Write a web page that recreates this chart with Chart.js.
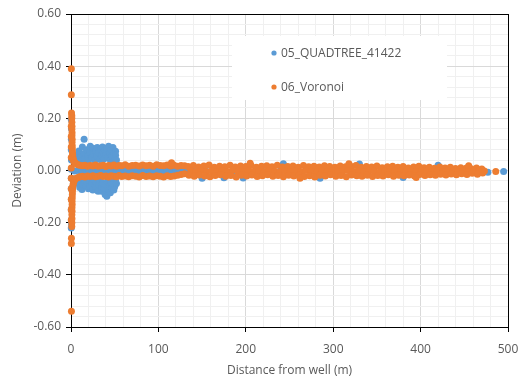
<!DOCTYPE html>
<html>
<head>
<meta charset="utf-8">
<script src="https://cdn.jsdelivr.net/npm/chart.js@4/dist/chart.umd.min.js"></script>
<style>
html, body { margin: 0; padding: 0; background: #fff; }
</style>
</head>
<body>
<canvas id="myChart" width="519" height="385"></canvas>
<script>
// series names and colours
const seriesLabels = ['05_QUADTREE_41422', '06_Voronoi'];
const seriesColors = ['#5B9BD5', '#ED7D31'];

// axis ranges / tick labels
const xTickLabels = [0, 100, 200, 300, 400, 500];
const yTickLabels = [-0.6, -0.4, -0.2, 0, 0.2, 0.4, 0.6];

// 05_QUADTREE_41422  [distance (m), deviation (m)]
const quadtreeSpike = [[0.3,0.196],[0.5,0.16],[0.4,0.12],[0.3,0.08],[0.5,0.04],[0.3,0.005],[0.4,-0.03],[0.3,-0.07],
  [0.5,-0.11],[0.3,-0.15],[0.4,-0.19],[0.3,-0.22],[0.6,-0.205]];
const quadtreeClusterUp = [[7,0.04],[8,0.06],[9,0.075],[11,0.05],[12,0.035],[13,0.09],[15,0.12],[15,0.065],[16,0.045],
  [18,0.08],[19,0.055],[20,0.038],[22,0.093],[22,0.07],[24,0.05],[25,0.085],[26,0.062],[27,0.04],[28,0.075],[30,0.088],
  [30,0.055],[32,0.068],[33,0.042],[34,0.08],[35,0.058],[36,0.09],[37,0.07],[38,0.045],[39,0.078],[40,0.06],[41,0.085],
  [42,0.05],[43,0.093],[44,0.068],[45,0.04],[46,0.08],[47,0.055],[48,0.088],[49,0.065],[50,0.045],[51,0.074],[51,0.058],[52,0.04]];
const quadtreeClusterDown = [[7,-0.035],[8,-0.05],[10,-0.065],[11,-0.04],[12.6,-0.073],[14,-0.055],[15,-0.035],[17,-0.06],
  [18,-0.045],[20,-0.07],[21,-0.038],[22,-0.06],[24,-0.05],[25,-0.075],[26,-0.035],[28,-0.062],[29,-0.045],[31,-0.08],
  [32,-0.055],[33,-0.038],[35,-0.08],[35,-0.065],[36,-0.048],[38,-0.07],[39,-0.092],[40,-0.055],[41,-0.099],[42,-0.04],
  [43,-0.078],[44,-0.06],[45,-0.085],[46,-0.045],[47,-0.068],[48,-0.052],[49,-0.075],[50,-0.062],[51,-0.04],[52,-0.05]];
const quadtreeBand = [[4,-0.002],[8,0.0],[12,-0.003],[16,-0.001],[20,-0.002],[24,0.0],[28,-0.003],[32,-0.001],[36,-0.002],
  [40,0.0],[44,-0.003],[48,-0.001],[52,-0.002],[56,0.0],[60,-0.002],[64,-0.001],[68,-0.003],[72,-0.001],[76,-0.002],[80,0.0],
  [85,-0.002],[90,-0.001],[95,-0.003],[100,-0.001],[105,-0.002],[110,0.0],[115,-0.002],[120,-0.001],[125,-0.003],[130,-0.001],
  [140,-0.002],[155,-0.004],[170,0.0],[185,-0.003],[200,-0.001],[220,-0.004],[240,0.0],[260,-0.002],[280,-0.003],[300,0.001],
  [320,-0.002],[340,-0.004],[360,0.0],[380,-0.002],[400,-0.003],[420,-0.001],
  [150,-0.03],[175,-0.028],[197,-0.029],[243,0.026],[285,-0.03],[330,0.025],[380,-0.027],[420,0.02],
  [438,-0.004],[449,0.001],[454,-0.006],[463,-0.002],[477,-0.007],[495,-0.004]];

// 06_Voronoi  [distance (m), deviation (m)]
const voronoiSpike = [[0.4,0.39],[0.4,0.29],[0.6,0.22],[0.9,0.21],[0.5,-0.26],[0.4,-0.28],[0.5,-0.54],
  [0.3,0.17],[0.3,0.13],[0.3,0.09],[0.3,0.05],[0.3,0.01],[0.3,-0.03],[0.3,-0.07],[0.3,-0.11],[0.3,-0.15],[0.3,-0.19],
  [0.9,0.2],[1.0,0.185],[1.1,0.17],[1.0,0.158],[1.2,0.145],[1.1,0.133],[1.3,0.12],[1.2,0.108],[1.4,0.095],[1.5,0.083],
  [1.6,0.072],[1.8,0.062],[2.0,0.053],[2.3,0.046],[2.7,0.04],[3.2,0.035],[3.8,0.031],
  [0.9,-0.215],[1.0,-0.2],[1.1,-0.185],[1.0,-0.17],[1.2,-0.156],[1.1,-0.143],[1.3,-0.13],[1.2,-0.118],[1.4,-0.105],
  [1.5,-0.093],[1.6,-0.082],[1.8,-0.072],[2.0,-0.063],[2.3,-0.055],[2.7,-0.048],[3.2,-0.042],[3.8,-0.037]];
const voronoiNearUp = [[4.5,0.03],[6,0.026],[8,0.022],[10,0.02],[13,0.018],[16,0.02],[19,0.016],[22,0.019],[25,0.017],
  [28,0.021],[31,0.016],[34,0.018],[37,0.02],[40,0.015],[43,0.019],[46,0.017],[49,0.021],[52,0.016],[55,0.019],[58,0.018],
  [62,0.022],[66,0.016],[70,0.019],[74,0.02],[78,0.017],[82,0.021],[86,0.018],[90,0.02],[94,0.016],[98,0.022],[102,0.019],
  [106,0.018],[110,0.021],[114,0.017],[118,0.02],[122,0.016],[126,0.019],[130,0.018],[115,0.03]];
const voronoiNearDown = [[4.5,-0.034],[6,-0.03],[8,-0.027],[10,-0.024],[13,-0.022],[16,-0.025],[19,-0.021],[22,-0.023],
  [25,-0.02],[28,-0.024],[31,-0.022],[34,-0.019],[37,-0.023],[40,-0.021],[43,-0.025],[46,-0.02],[49,-0.022],[52,-0.024],
  [55,-0.019],[58,-0.023],[62,-0.021],[66,-0.024],[70,-0.02],[74,-0.022],[78,-0.025],[82,-0.019],[86,-0.023],[90,-0.021],
  [94,-0.024],[98,-0.02],[102,-0.022],[106,-0.025],[110,-0.02],[114,-0.023],[118,-0.021],[122,-0.018],[126,-0.015],[130,-0.012]];
const voronoiFarUp = [[134,0.015],[140,0.019],[146,0.013],[152,0.017],[158,0.021],[164,0.012],[170,0.016],[176,0.014],
  [182,0.02],[188,0.013],[194,0.017],[200,0.015],[206,0.019],[212,0.012],[218,0.016],[224,0.018],[230,0.014],[236,0.02],
  [242,0.013],[248,0.015],[254,0.017],[260,0.012],[266,0.019],[272,0.014],[278,0.016],[284,0.013],[290,0.018],[296,0.015],
  [302,0.012],[308,0.017],[314,0.014],[320,0.016],[326,0.019],[332,0.012],[338,0.015],[344,0.013],[350,0.017],[356,0.011],
  [362,0.014],[368,0.016],[374,0.012],[380,0.015],[386,0.01],[392,0.013],[398,0.016],[404,0.011],[410,0.012],[416,0.009],
  [422,0.013],[428,0.01],[434,0.012],[440,0.008],[446,0.011],[452,0.009],[458,0.007],[464,0.01],[470,0.006],
  [205,0.028],[318,0.026],[455,0.018]];
const voronoiFarMid = [[137,-0.002],[143,-0.005],[149,0.0],[155,-0.004],[161,-0.001],[167,-0.006],[173,-0.002],[179,-0.004],
  [185,0.001],[191,-0.003],[197,-0.005],[203,-0.001],[209,-0.004],[215,-0.002],[221,-0.006],[227,0.0],[233,-0.003],[239,-0.005],
  [245,-0.001],[251,-0.004],[257,-0.002],[263,-0.005],[269,0.0],[275,-0.003],[281,-0.006],[287,-0.002],[293,-0.004],[299,-0.001],
  [305,-0.005],[311,-0.003],[317,0.0],[323,-0.004],[329,-0.002],[335,-0.005],[341,-0.001],[347,-0.003],[353,-0.006],[359,-0.002],
  [365,-0.004],[371,0.0],[377,-0.003],[383,-0.005],[389,-0.002],[395,-0.004],[401,-0.001],[407,-0.003],[413,-0.005],[419,-0.002],
  [425,-0.004],[431,-0.001],[437,-0.003],[443,-0.005],[449,-0.002],[455,-0.004],[461,-0.001],[467,-0.003],[473,-0.002],[486,-0.004]];
const voronoiFarDown = [[135,-0.018],[141,-0.022],[147,-0.017],[153,-0.021],[159,-0.024],[165,-0.019],[171,-0.016],[177,-0.022],
  [183,-0.019],[189,-0.025],[195,-0.018],[201,-0.021],[207,-0.017],[213,-0.023],[219,-0.02],[225,-0.016],[231,-0.022],[237,-0.019],
  [243,-0.024],[249,-0.018],[255,-0.021],[261,-0.017],[267,-0.023],[273,-0.02],[279,-0.025],[285,-0.018],[291,-0.021],[297,-0.016],
  [303,-0.022],[309,-0.019],[315,-0.024],[321,-0.017],[327,-0.02],[333,-0.022],[339,-0.018],[345,-0.023],[351,-0.019],[357,-0.021],
  [363,-0.016],[369,-0.022],[375,-0.018],[381,-0.02],[387,-0.017],[393,-0.021],[399,-0.015],[405,-0.019],[411,-0.016],[417,-0.018],
  [423,-0.014],[429,-0.017],[435,-0.013],[441,-0.016],[447,-0.012],[453,-0.015],[459,-0.011],[465,-0.014],[471,-0.01],
  [262,-0.03],[395,-0.027]];

const toXY = arr => arr.map(p => ({ x: p[0], y: p[1] }));
const quadtreeData = toXY([].concat(quadtreeSpike, quadtreeClusterUp, quadtreeClusterDown, quadtreeBand));
const voronoiData = toXY([].concat(voronoiSpike, voronoiNearUp, voronoiNearDown, voronoiFarUp, voronoiFarMid, voronoiFarDown));

const textColor = '#595959';
const font = { family: '"Open Sans", sans-serif', size: 12 };
const isMajorX = v => Math.round(v) % 100 === 0;
const isMajorY = v => Math.round(v * 100) % 20 === 0;

// frame on all four sides + legend box inside the plot, drawn under the points
const insideLegend = {
    id: 'insideLegend',
    beforeDatasetsDraw(chart) {
        const c = chart.ctx;
        const a = chart.chartArea;
        c.save();
        c.strokeStyle = '#000';
        c.lineWidth = 1;
        c.strokeRect(Math.round(a.left) + 0.5, Math.round(a.top) + 0.5, Math.round(a.right - a.left), Math.round(a.bottom - a.top));
        c.fillStyle = '#fff';
        c.fillRect(232, 36, 215, 64);
        c.font = '12px "Open Sans", sans-serif';
        c.textBaseline = 'middle';
        chart.data.datasets.forEach((ds, i) => {
            const y = 53 + i * 34;
            c.fillStyle = ds.backgroundColor;
            c.beginPath();
            c.arc(274, y, 2.6, 0, Math.PI * 2);
            c.fill();
            c.fillStyle = textColor;
            c.fillText(ds.label, 281, y + 1);
        });
        c.restore();
    }
};

const ctx = document.getElementById('myChart').getContext('2d');
const myChart = new Chart(ctx, {
    type: 'scatter',
    data: {
        datasets: [
            { label: seriesLabels[0], data: quadtreeData, backgroundColor: seriesColors[0], borderColor: seriesColors[0],
              pointRadius: 3.5, pointBorderWidth: 0, order: 1, clip: false },
            { label: seriesLabels[1], data: voronoiData, backgroundColor: seriesColors[1], borderColor: seriesColors[1],
              pointRadius: 3.5, pointBorderWidth: 0, order: 0, clip: false }
        ]
    },
    options: {
        responsive: false,
        animation: false,
        devicePixelRatio: 1,
        layout: { padding: { top: 14, right: 11, left: 0, bottom: 0 } },
        plugins: { legend: { display: false }, tooltip: { enabled: false } },
        scales: {
            x: {
                type: 'linear',
                min: xTickLabels[0], max: xTickLabels[xTickLabels.length - 1],
                afterFit: s => { s.height = 58; s.paddingLeft = 0; s.paddingRight = 0; },
                ticks: { stepSize: 20, autoSkip: false, maxRotation: 0, padding: 10, color: textColor, font: font,
                         callback: v => isMajorX(v) ? String(v) : '' },
                grid: { color: c => isMajorX(c.tick.value) ? '#d9d9d9' : '#f0f0f0', tickLength: 5,
                        tickColor: c => isMajorX(c.tick.value) ? '#000' : 'rgba(0,0,0,0)' },
                border: { color: '#000', width: 1 },
                title: { display: true, text: 'Distance from well (m)', color: textColor, font: font, padding: { top: 0, bottom: 7 } }
            },
            y: {
                type: 'linear',
                min: yTickLabels[0], max: yTickLabels[yTickLabels.length - 1],
                afterFit: s => { s.width = 71; s.paddingTop = 0; s.paddingBottom = 0; },
                ticks: { stepSize: 0.04, autoSkip: false, padding: 5, color: textColor, font: font,
                         callback: v => isMajorY(v) ? (Math.abs(v) < 1e-9 ? '0.00' : v.toFixed(2)) : '' },
                grid: { color: c => isMajorY(c.tick.value) ? '#d9d9d9' : '#f0f0f0', tickLength: 5,
                        tickColor: c => isMajorY(c.tick.value) ? '#000' : 'rgba(0,0,0,0)' },
                border: { color: '#000', width: 1 },
                title: { display: true, text: 'Deviation (m)', color: textColor, font: font, padding: { top: 10, bottom: 0 } }
            }
        }
    },
    plugins: [insideLegend]
});
</script>
</body>
</html>
